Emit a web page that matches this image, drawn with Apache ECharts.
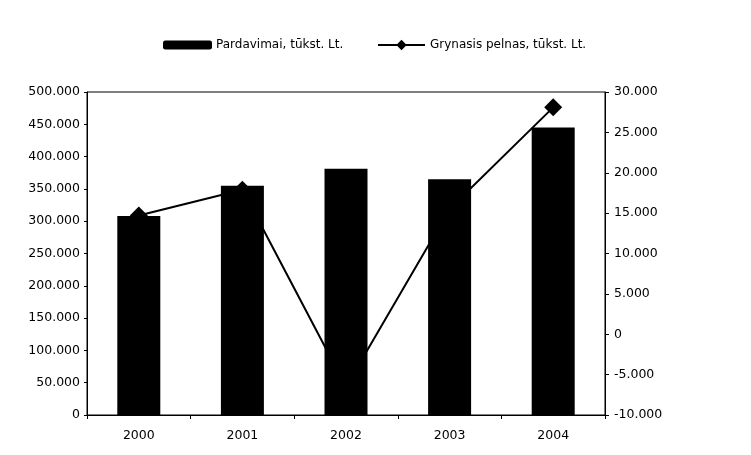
<!DOCTYPE html>
<html>
<head>
<meta charset="utf-8">
<script src="https://cdn.jsdelivr.net/npm/echarts@6/dist/echarts.min.js"></script>
<style>
html,body{margin:0;padding:0;background:#fff;}
#c{width:751px;height:455px;}
</style>
</head>
<body>
<div id="c"></div>
<script>
var years = ['2000', '2001', '2002', '2003', '2004'];
var sales = [308000, 355000, 381000, 365000, 445000];
var profit = [14700, 17900, -6500, 15500, 28100];
var salesName = 'Pardavimai, tūkst. Lt.';
var profitName = 'Grynasis pelnas, tūkst. Lt.';

function fmt(v) {
  if (v === 0) return '0';
  var s = String(Math.abs(v)).replace(/\B(?=(\d{3})+(?!\d))/g, '.');
  return (v < 0 ? '-' : '') + s;
}

var font = 'DejaVu Sans';
var chart = echarts.init(document.getElementById('c'), null, {renderer: 'canvas'});
chart.setOption({
  animation: false,
  backgroundColor: '#fff',
  textStyle: {fontFamily: font, color: '#000'},
  legend: [
    {
      data: [{name: salesName, icon: 'roundRect'}],
      left: 163, top: 39, padding: 0,
      itemWidth: 49, itemHeight: 9, itemGap: 5,
      textStyle: {fontFamily: font, fontSize: 12, color: '#000', padding: [0, 0, 0, -1]}
    },
    {
      data: [{name: profitName}],
      left: 377, top: 39, padding: 0,
      itemWidth: 47, itemHeight: 13,
      textStyle: {fontFamily: font, fontSize: 12, color: '#000', padding: [0, 0, 0, 0]}
    }
  ],
  grid: {
    left: 87, right: 146, top: 92, bottom: 40,
    show: true, borderColor: '#000', borderWidth: 1, backgroundColor: 'transparent'
  },
  xAxis: {
    type: 'category',
    data: years,
    axisLine: {lineStyle: {color: '#000', width: 1}},
    axisTick: {show: true, alignWithLabel: false, length: 4, lineStyle: {color: '#000'}},
    axisLabel: {fontFamily: font, fontSize: 12.5, color: '#000', margin: 14},
    splitLine: {show: false}
  },
  yAxis: [
    {
      type: 'value', min: 0, max: 500000, interval: 50000,
      axisLine: {show: true, lineStyle: {color: '#000', width: 1}},
      axisTick: {show: true, length: 3, lineStyle: {color: '#000'}},
      axisLabel: {fontFamily: font, fontSize: 12.5, color: '#000', margin: 7, formatter: fmt},
      splitLine: {show: false}
    },
    {
      type: 'value', min: -10000, max: 30000, interval: 5000,
      position: 'right',
      axisLine: {show: true, lineStyle: {color: '#000', width: 1}},
      axisTick: {show: true, length: 4, lineStyle: {color: '#000'}},
      axisLabel: {fontFamily: font, fontSize: 12.5, color: '#000', margin: 9, formatter: fmt},
      splitLine: {show: false}
    }
  ],
  series: [
    {
      name: salesName,
      type: 'bar',
      yAxisIndex: 0,
      data: sales,
      barWidth: 43,
      z: 3,
      itemStyle: {color: '#000'}
    },
    {
      name: profitName,
      type: 'line',
      yAxisIndex: 1,
      data: profit,
      z: 1,
      symbol: 'diamond',
      symbolSize: 18,
      lineStyle: {color: '#000', width: 2},
      itemStyle: {color: '#000'}
    }
  ]
});
</script>
</body>
</html>
